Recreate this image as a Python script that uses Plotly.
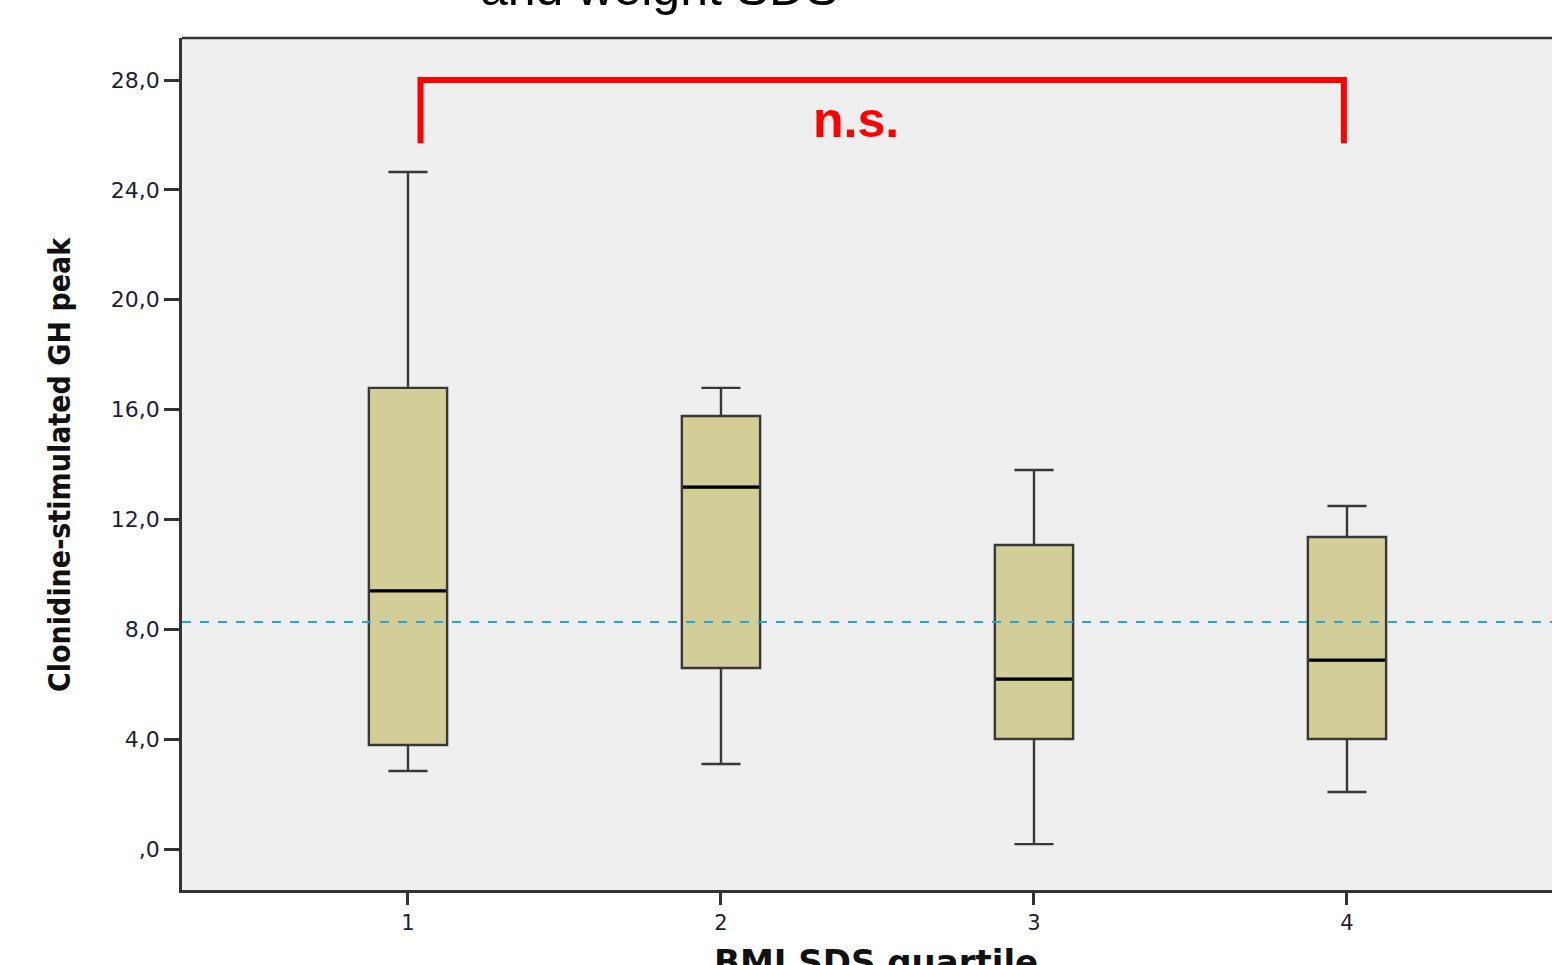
import plotly.graph_objects as go

# BMI SDS quartile groups and box-plot statistics of the clonidine-stimulated GH peak
quartiles = [1, 2, 3, 4]
whisker_low = [2.84, 3.10, 0.18, 2.08]
q1 = [3.79, 6.59, 4.01, 4.01]
median = [9.40, 13.18, 6.19, 6.88]
q3 = [16.79, 15.77, 11.07, 11.36]
whisker_high = [24.65, 16.79, 13.80, 12.49]

# reference cut-off for the GH peak (dashed line)
cutoff = 8.27

# y-axis ticks
y_tickvals = [0, 4, 8, 12, 16, 20, 24, 28]
y_ticktext = [",0", "4,0", "8,0", "12,0", "16,0", "20,0", "24,0", "28,0"]
x_ticktext = ["1", "2", "3", "4"]

# significance bracket between the first and last quartile
bracket_groups = [1, 4]
bracket_top = 28.0
bracket_drop = 2.3
bracket_label = "n.s."

BOX_W = 0.25
PLOT_L, PLOT_R = 182, 1552

fig = go.Figure()

fig.add_trace(go.Box(
    x=quartiles,
    q1=q1,
    median=median,
    q3=q3,
    lowerfence=whisker_low,
    upperfence=whisker_high,
    width=BOX_W,
    whiskerwidth=0.5,
    fillcolor="#d3cd98",
    line=dict(color="#383838", width=2.4),
    boxpoints=False,
    hoverinfo="skip",
    showlegend=False,
))

# heavier black median bars drawn over the boxes
mx, my = [], []
for g, m in zip(quartiles, median):
    mx += [g - BOX_W / 2 + 0.004, g + BOX_W / 2 - 0.004, None]
    my += [m, m, None]
fig.add_trace(go.Scatter(x=mx, y=my, mode="lines", line=dict(color="#000000", width=3.2),
                         hoverinfo="skip", showlegend=False))

# dashed cut-off line across the whole plot
fig.add_shape(type="line", xref="paper", yref="y", x0=0, x1=1, y0=cutoff, y1=cutoff,
              line=dict(color="#1ea7e1", width=2, dash="dash"), layer="above")

# bracket (offset a little inward from the group centres)
bx0 = bracket_groups[0] + 0.04
bx1 = bracket_groups[1] - 0.01
by_low = bracket_top - bracket_drop
red = "#ff0000"
fig.add_shape(type="path",
              path=f"M {bx0} {by_low} L {bx0} {bracket_top} L {bx1} {bracket_top} L {bx1} {by_low}",
              line=dict(color=red, width=6), xref="x", yref="y")
fig.add_annotation(x=2.43, y=bracket_top - 1.45, xref="x", yref="y",
                   text=f"<b>{bracket_label}</b>", showarrow=False,
                   font=dict(family="Liberation Sans, Arial", size=50, color=red))

# top border of the plot frame
fig.add_shape(type="line", xref="paper", yref="paper", x0=0, x1=1, y0=1, y1=1,
              line=dict(color="#333333", width=2.5))


def px_x(p):
    return (p - PLOT_L) / (PLOT_R - PLOT_L)


def px_y(p):
    return (890 - p) / (890 - 38)


# chart title (only its last line fits on the page)
fig.add_annotation(x=px_x(659), xref="paper", y=px_y(18), yref="paper",
                   yanchor="bottom", xanchor="center", text="and weight SDS", showarrow=False,
                   font=dict(family="Liberation Sans, Arial", size=50, color="#000000"))

# axis titles
fig.add_annotation(x=px_x(60), xref="paper", y=px_y(465), yref="paper",
                   xanchor="center", yanchor="middle", textangle=-90,
                   text="<b>Clonidine-stimulated GH peak</b>", showarrow=False,
                   font=dict(family="DejaVu Sans Condensed, DejaVu Sans", size=30, color="#111111"))
fig.add_annotation(x=px_x(876), xref="paper", y=px_y(940), yref="paper",
                   xanchor="center", yanchor="top",
                   text="<b>BMI SDS quartile</b>", showarrow=False,
                   font=dict(family="DejaVu Sans", size=34, color="#111111"))

fig.update_layout(
    width=1552, height=965,
    margin=dict(l=PLOT_L, r=0, t=38, b=75),
    paper_bgcolor="#ffffff",
    plot_bgcolor="#efefef",
    xaxis=dict(
        range=[0.278, 4.655],
        tickvals=quartiles, ticktext=x_ticktext,
        ticks="outside", ticklen=12, tickwidth=2.5, tickcolor="#333333",
        showline=True, linecolor="#333333", linewidth=2.5,
        showgrid=False, zeroline=False,
        tickfont=dict(family="DejaVu Sans", size=21, color="#1d1d3a"),
    ),
    yaxis=dict(
        range=[-1.49, 29.53],
        tickvals=y_tickvals, ticktext=y_ticktext,
        ticks="outside", ticklen=15, tickwidth=2.5, tickcolor="#333333",
        showline=True, linecolor="#333333", linewidth=2.5,
        showgrid=False, zeroline=False,
        tickfont=dict(family="DejaVu Sans", size=22, color="#1d1d3a"),
    ),
)

fig.write_html("out.html")
